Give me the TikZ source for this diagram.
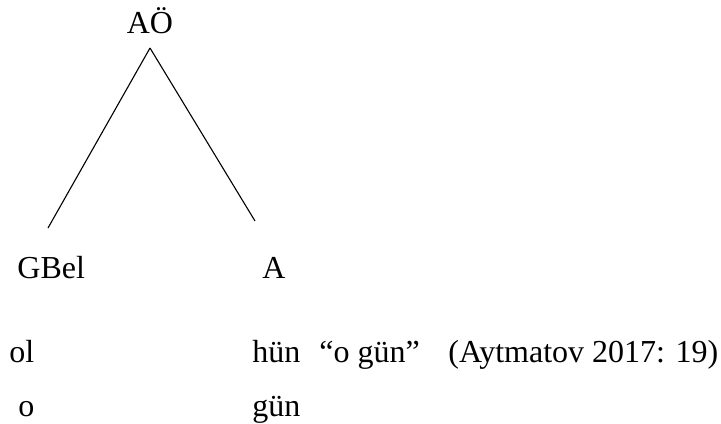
\documentclass[tikz,border=0pt]{standalone}
\usepackage{fontspec}
\setmainfont{Liberation Serif}
\usetikzlibrary{positioning}
\newcommand\treefont{\fontsize{16}{19}\selectfont}

\begin{document}
\begin{tikzpicture}[x=0.5pt,y=-0.5pt,
  % Node Styles
  lbl/.style={inner sep=0pt, anchor=base west, font=\treefont},
  % Line Styles
  branch/.style={line width=0.55pt, black},
]
\useasboundingbox (0,0) rectangle (721,423);

% Tree for: AÖ

\node[lbl, anchor=base] (AO) at (150,33) {AÖ};
\node[lbl] (GBel) at (17,278) {GBel};
\node[lbl] (A) at (262,278) {A};

\coordinate (apex) at (150,48);
\coordinate (GBel_end) at (48,228);
\coordinate (A_end) at (255,221);

\draw[branch] (apex) -- (GBel_end);
\draw[branch] (apex) -- (A_end);

% Words and glosses

\node[lbl] (w_ol) at (9,362) {ol};
\node[lbl] (w_hun) at (252,362) {hün};
\node[lbl] (tr) at (319,362) {“o gün”};
\node[lbl] (src) at (448,362) {(Aytmatov 2017: 19)};

\node[lbl] (g_o) at (18,416) {o};
\node[lbl] (g_gun) at (252,416) {gün};

\end{tikzpicture}
\end{document}
